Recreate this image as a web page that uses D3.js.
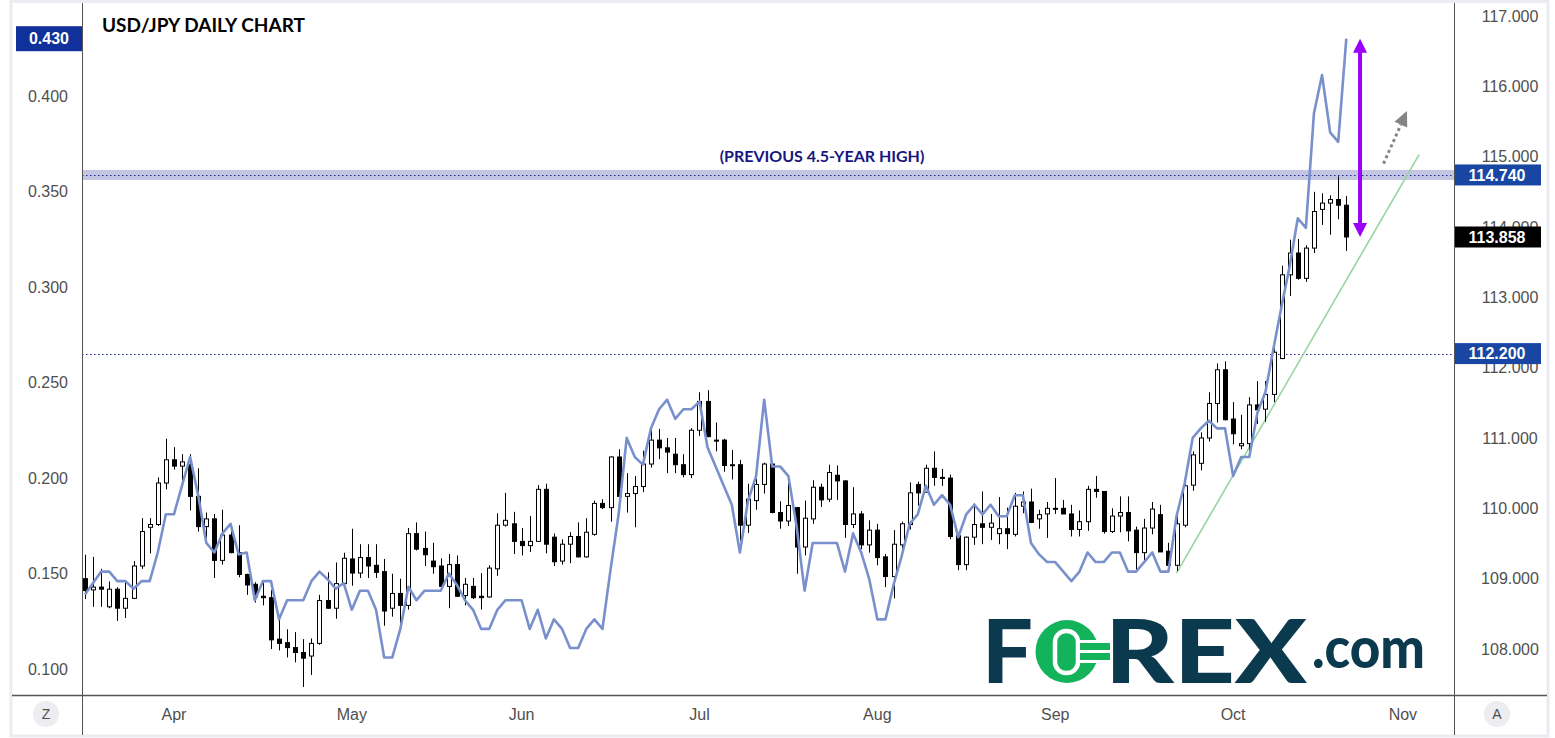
<!DOCTYPE html>
<meta charset="UTF-8">
<style>
    body { margin: 0; background: #fff; }
    svg { display: block; }
    .tick-label { font: 16px "Liberation Sans", Arial, sans-serif; fill: #4f4f4f; }
    .box-label { font: bold 16px "Liberation Sans", Arial, sans-serif; fill: #fff; }
</style>
<body>
<script src="https://d3js.org/d3.v7.min.js"></script>
<script>

// first daily bar on screen, the rest are the following weekdays
var startDate = "2021-03-17";

// USD/JPY daily candles
var opens = [
  109.00,108.84,108.88,108.60,108.85,108.58,108.72,109.18,109.73,109.77,
  110.36,110.69,110.60,110.62,110.17,109.74,109.85,109.26,109.62,109.37,
  109.06,108.92,108.75,108.73,108.14,108.09,108.02,107.95,107.90,108.08,
  108.69,108.58,108.93,109.28,109.08,109.30,109.19,109.10,108.58,108.79,
  108.62,109.64,109.43,109.25,109.18,108.89,109.20,108.76,108.89,108.75,
  108.74,109.14,109.76,109.78,109.53,109.47,109.53,110.27,109.59,109.25,
  109.49,109.60,109.31,109.63,110.07,110.01,110.73,110.17,110.21,110.31,
  110.63,110.97,110.86,110.77,110.62,110.48,111.11,111.52,110.97,110.97,
  110.62,110.62,109.76,110.11,110.34,110.63,109.94,109.82,110.01,109.45,
  109.85,110.30,110.13,110.47,110.39,109.77,109.92,109.48,109.69,109.31,
  109.03,109.48,109.77,110.34,110.23,110.57,110.44,110.43,109.61,109.20,
  109.59,109.78,109.73,109.64,109.71,109.63,110.03,110.09,109.85,109.92,
  110.00,110.00,109.92,109.70,109.81,110.27,110.24,109.67,109.89,109.94,
  109.69,109.37,109.72,109.91,109.39,109.19,109.76,110.33,110.64,111.00,
  111.49,111.97,111.27,110.89,110.92,111.47,111.41,111.62,112.13,113.32,
  113.63,113.27,113.70,114.25,114.34,114.39,114.31];
var highs = [
  109.34,109.31,109.14,108.96,108.88,108.96,109.25,109.86,109.86,110.44,
  110.99,110.87,110.77,110.77,110.57,109.94,109.92,109.98,109.78,109.76,
  109.07,108.95,108.98,108.84,108.43,108.28,108.24,108.14,108.15,108.77,
  109.09,109.23,109.37,109.71,109.49,109.49,109.49,109.28,109.07,109.00,
  109.72,109.80,109.67,109.51,109.29,109.35,109.33,109.01,109.01,109.08,
  109.19,109.93,110.22,109.95,109.72,109.89,110.33,110.35,109.64,109.56,
  109.66,109.80,109.86,110.11,110.13,110.74,110.84,110.50,110.46,110.82,
  111.13,111.13,111.00,111.00,110.77,111.14,111.65,111.68,111.22,110.99,
  110.83,110.69,110.35,110.42,110.65,110.65,110.10,110.36,110.02,110.11,
  110.40,110.35,110.62,110.61,110.40,110.30,109.96,109.83,109.78,109.35,
  109.69,109.81,110.37,110.38,110.62,110.81,110.56,110.48,109.64,109.60,
  110.07,110.24,109.92,110.16,110.01,110.22,110.24,110.28,109.98,110.09,
  110.43,110.12,110.05,109.97,110.32,110.46,110.24,110.00,110.17,110.17,
  109.74,109.85,110.09,110.05,109.51,109.90,110.36,110.81,111.08,111.65,
  112.06,112.09,111.51,111.33,111.58,111.81,111.81,112.28,113.45,113.82,
  113.83,113.74,114.50,114.48,114.45,114.72,114.44];
var lows = [
  108.71,108.60,108.60,108.58,108.40,108.44,108.71,109.14,109.36,109.75,
  110.27,110.55,110.37,109.97,109.67,109.58,109.01,109.20,109.36,109.02,
  108.77,108.66,108.62,108.00,107.98,107.88,107.81,107.46,107.63,108.06,
  108.57,108.43,108.92,108.90,109.01,109.01,109.01,108.33,108.46,108.34,
  108.56,109.40,109.18,109.07,108.83,108.58,108.74,108.62,108.71,108.56,
  108.73,109.04,109.74,109.35,109.33,109.38,109.52,109.36,109.18,109.20,
  109.22,109.30,109.30,109.61,109.99,109.81,110.16,109.94,109.73,110.23,
  110.58,110.70,110.50,110.50,110.44,110.43,111.03,111.01,110.81,110.52,
  110.41,109.54,109.65,109.98,110.21,109.93,109.71,109.75,109.07,109.33,
  109.78,110.02,110.09,110.12,109.58,109.72,109.42,109.37,109.19,108.88,
  108.72,109.40,109.70,110.04,110.22,110.32,110.32,109.56,109.12,109.12,
  109.48,109.49,109.55,109.49,109.42,109.60,109.93,109.79,109.71,109.58,
  109.92,109.92,109.60,109.60,109.68,110.15,109.64,109.65,109.66,109.53,
  109.10,109.23,109.63,109.38,109.11,109.11,109.73,110.25,110.54,110.95,
  111.22,111.25,110.91,110.84,110.82,111.20,111.23,111.51,112.12,113.02,
  113.25,113.22,113.63,114.03,113.89,114.11,113.66];
var closes = [
  108.83,108.88,108.85,108.85,108.58,108.72,109.18,109.67,109.77,110.36,
  110.69,110.60,110.66,110.17,109.74,109.85,109.26,109.62,109.37,109.06,
  108.91,108.74,108.73,108.13,108.08,108.02,107.95,107.87,108.08,108.69,
  108.58,108.93,109.29,109.08,109.30,109.18,109.09,108.54,108.79,108.62,
  109.64,109.42,109.34,109.17,108.89,109.20,108.75,108.92,108.73,108.73,
  109.15,109.76,109.83,109.53,109.47,109.53,110.27,109.49,109.24,109.49,
  109.60,109.31,109.66,110.07,110.01,110.73,110.17,110.21,110.31,110.63,
  110.97,110.86,110.80,110.62,110.48,111.11,111.52,111.02,110.96,110.61,
  110.61,109.76,110.13,110.34,110.63,109.94,109.82,110.04,109.45,109.86,
  110.30,110.12,110.51,110.39,109.77,109.92,109.48,109.69,109.30,109.03,
  109.49,109.78,110.22,110.22,110.57,110.44,110.43,109.60,109.20,109.59,
  109.77,109.73,109.79,109.71,109.64,110.03,110.09,109.80,109.91,110.00,
  109.99,109.92,109.70,109.81,110.27,110.24,109.67,109.89,109.94,109.68,
  109.37,109.72,109.99,109.38,109.19,109.78,110.32,110.76,111.00,111.49,
  111.97,111.26,111.06,110.92,111.47,111.40,111.62,112.22,113.32,113.63,
  113.27,113.70,114.22,114.34,114.39,114.31,113.858];

// yield spread (left scale), one value per bar
var spread = [
  .139,.145,.151,.151,.146,.146,.142,.146,.146,.161,
  .181,.181,.196,.211,.191,.166,.161,.171,.176,.160,
  .161,.136,.146,.146,.126,.136,.136,.136,.146,.151,
  .147,.142,.145,.131,.141,.141,.131,.106,.106,.121,
  .143,.136,.141,.141,.141,.150,.144,.136,.131,.121,
  .121,.131,.136,.136,.136,.121,.131,.116,.126,.121,
  .111,.111,.121,.126,.121,.152,.181,.221,.211,.207,
  .226,.236,.241,.231,.236,.236,.240,.216,.206,.196,
  .186,.161,.188,.201,.241,.206,.206,.201,.175,.141,
  .166,.166,.166,.166,.151,.171,.161,.147,.126,.126,
  .144,.159,.176,.181,.196,.186,.191,.186,.169,.181,
  .186,.181,.186,.180,.180,.191,.191,.166,.160,.156,
  .156,.151,.146,.151,.161,.156,.156,.161,.161,.151,
  .151,.156,.161,.151,.151,.180,.197,.221,.226,.230,
  .226,.226,.201,.211,.211,.234,.245,.268,.290,.311,
  .336,.331,.391,.411,.381,.376,.430];

var priceTicks = [108, 109, 110, 111, 112, 113, 114, 115, 116, 117];
var spreadTicks = [0.10, 0.15, 0.20, 0.25, 0.30, 0.35, 0.40];

var prevHigh = 114.74,     // previous 4.5-year high
    keyLevel = 112.20,
    lastPrice = 113.858,
    lastSpread = 0.430;

// green trend line, [bar index, price]
var trendLine = [[135, 109.08], [165, 115.03]];
// grey dotted "next leg" arrow, [bar index, price]
var nextArrow = [[160.6, 114.90], [163.5, 115.65]];
var purpleArrowBar = 157.7;

var width = 1555, height = 738;
var plot = {left: 82, right: 1454, top: 3, bottom: 695};

// weekday calendar for the bars (plus a few future slots for the axis)
var dates = [];
for (var d = new Date(startDate + "T00:00:00Z"); dates.length < 175; d.setUTCDate(d.getUTCDate() + 1)) {
  var wd = d.getUTCDay();
  if (wd > 0 && wd < 6) dates.push(new Date(d));
}

var x = d3.scaleLinear().domain([0, 156]).range([85, 1346.3]);
var yR = d3.scaleLinear().domain([108, 117]).range([649, 16]);
var yL = d3.scaleLinear().domain([0.10, 0.43]).range([669, 38.7]);

var svg = d3.select("body").append("svg")
    .attr("width", width)
    .attr("height", height);

svg.append("rect").attr("width", width).attr("height", height).attr("fill", "#fff");

svg.append("clipPath").attr("id", "plotClip")
  .append("rect")
    .attr("x", plot.left).attr("y", plot.top)
    .attr("width", plot.right - plot.left).attr("height", plot.bottom - plot.top);

var g = svg.append("g").attr("clip-path", "url(#plotClip)");

// ---- horizontal levels ----
g.append("rect")
    .attr("x", plot.left).attr("width", plot.right - plot.left)
    .attr("y", yR(prevHigh) - 5).attr("height", 10)
    .attr("fill", "#c3c5e3");

[prevHigh, keyLevel].forEach(function(v) {
  g.append("line")
      .attr("x1", plot.left).attr("x2", plot.right)
      .attr("y1", Math.round(yR(v)) + 0.5).attr("y2", Math.round(yR(v)) + 0.5)
      .attr("stroke", "#1b2a8c")
      .attr("stroke-width", 1)
      .attr("stroke-dasharray", "1.5,2.5");
});

g.append("text")
    .attr("x", 822).attr("y", yR(prevHigh) - 13)
    .attr("text-anchor", "middle")
    .style("font", "bold 16px Lato, 'Open Sans', sans-serif")
    .attr("fill", "#16167e")
    .text("(PREVIOUS 4.5-YEAR HIGH)");

// ---- trend line ----
g.append("line")
    .attr("x1", x(trendLine[0][0])).attr("y1", yR(trendLine[0][1]))
    .attr("x2", x(trendLine[1][0])).attr("y2", yR(trendLine[1][1]))
    .attr("stroke", "#97d49f")
    .attr("stroke-width", 1.6);

// ---- candles ----
var candles = closes.map(function(c, i) {
  return {i: i, o: opens[i], h: highs[i], l: lows[i], c: c};
});

var cg = g.append("g");
cg.selectAll("line.wick")
  .data(candles)
  .join("line")
    .attr("class", "wick")
    .attr("x1", function(d) { return Math.round(x(d.i)) + 0.5; })
    .attr("x2", function(d) { return Math.round(x(d.i)) + 0.5; })
    .attr("y1", function(d) { return yR(d.h); })
    .attr("y2", function(d) { return yR(d.l); })
    .attr("stroke", "#000")
    .attr("stroke-width", 1);

cg.selectAll("rect.body")
  .data(candles)
  .join("rect")
    .attr("class", "body")
    .attr("x", function(d) { return Math.round(x(d.i)) - 1.5; })
    .attr("width", 4)
    .attr("y", function(d) { return yR(Math.max(d.o, d.c)); })
    .attr("height", function(d) { return Math.max(1, Math.abs(yR(d.o) - yR(d.c))); })
    .attr("fill", function(d) { return d.c < d.o ? "#000" : "#fff"; })
    .attr("stroke", "#000")
    .attr("stroke-width", 1);

// ---- spread line ----
g.append("path")
    .datum(spread)
    .attr("fill", "none")
    .attr("stroke", "#7990cc")
    .attr("stroke-width", 2.6)
    .attr("stroke-linejoin", "round")
    .attr("d", d3.line()
        .x(function(v, i) { return x(i); })
        .y(function(v) { return yL(v); }));

// ---- purple double arrow ----
var pax = x(purpleArrowBar), paTop = yL(lastSpread), paBot = yR(lastPrice);
g.append("line")
    .attr("x1", pax).attr("x2", pax)
    .attr("y1", paTop + 12).attr("y2", paBot - 12)
    .attr("stroke", "#9b00fa").attr("stroke-width", 4);
g.append("path")
    .attr("d", "M" + pax + "," + paTop + "L" + (pax - 7) + "," + (paTop + 14) + "L" + (pax + 7) + "," + (paTop + 14) + "Z" +
               "M" + pax + "," + paBot + "L" + (pax - 7) + "," + (paBot - 14) + "L" + (pax + 7) + "," + (paBot - 14) + "Z")
    .attr("fill", "#9b00fa");

// ---- grey dotted arrow ----
var a0 = [x(nextArrow[0][0]), yR(nextArrow[0][1])],
    a1 = [x(nextArrow[1][0]), yR(nextArrow[1][1])];
var adx = a1[0] - a0[0], ady = a1[1] - a0[1], alen = Math.sqrt(adx * adx + ady * ady);
var ux = adx / alen, uy = ady / alen;
var hb = [a1[0] - ux * 15, a1[1] - uy * 15];
g.append("line")
    .attr("x1", a0[0]).attr("y1", a0[1])
    .attr("x2", hb[0]).attr("y2", hb[1])
    .attr("stroke", "#858585").attr("stroke-width", 3)
    .attr("stroke-dasharray", "3,3");
g.append("path")
    .attr("d", "M" + a1[0] + "," + a1[1] +
               "L" + (hb[0] - uy * 7) + "," + (hb[1] + ux * 7) +
               "L" + (hb[0] + uy * 7) + "," + (hb[1] - ux * 7) + "Z")
    .attr("fill", "#858585");

// ---- FOREX.com logo ----
var logo = svg.append("g");
var logoFont = "Lato, Roboto, 'Open Sans', sans-serif";
var navy = "#0b3a4e", green = "#13b35b";
logo.append("text")
    .attr("x", 982).attr("y", 683)
    .attr("textLength", 51).attr("lengthAdjust", "spacingAndGlyphs")
    .style("font-family", logoFont).style("font-weight", 900).style("font-size", "88px")
    .attr("fill", navy).text("F");
// the green "O" with a white zero and two prongs on its right
logo.append("circle").attr("cx", 1067).attr("cy", 651.5).attr("r", 31.5).attr("fill", green);
logo.append("rect").attr("x", 1055).attr("y", 631).attr("width", 23).attr("height", 42).attr("rx", 11)
    .attr("fill", green).attr("stroke", "#fff").attr("stroke-width", 4.5);
logo.append("rect").attr("x", 1078).attr("y", 640).attr("width", 24).attr("height", 3).attr("fill", "#fff");
logo.append("rect").attr("x", 1078).attr("y", 650).attr("width", 24).attr("height", 3).attr("fill", "#fff");
logo.append("rect").attr("x", 1078).attr("y", 660).attr("width", 24).attr("height", 3).attr("fill", "#fff");
logo.append("rect").attr("x", 1080).attr("y", 643).attr("width", 30).attr("height", 7).attr("fill", green);
logo.append("rect").attr("x", 1080).attr("y", 653).attr("width", 30).attr("height", 7).attr("fill", green);
logo.append("text")
    .attr("x", 1105).attr("y", 683)
    .attr("textLength", 202).attr("lengthAdjust", "spacingAndGlyphs")
    .style("font-family", logoFont).style("font-weight", 900).style("font-size", "88px")
    .attr("fill", navy).text("REX");
logo.append("text")
    .attr("x", 1312).attr("y", 668)
    .attr("textLength", 113).attr("lengthAdjust", "spacingAndGlyphs")
    .style("font-family", logoFont).style("font-weight", 900).style("font-size", "58px")
    .attr("fill", navy).text(".com");

// ---- title ----
svg.append("text")
    .attr("x", 102).attr("y", 32)
    .style("font", "bold 19px Lato, 'Open Sans', sans-serif")
    .attr("fill", "#000")
    .text("USD/JPY DAILY CHART");

// ---- frame and axis lines ----
svg.append("rect")
    .attr("x", 11).attr("y", 1.5).attr("width", 1537).attr("height", 734.5)
    .attr("fill", "none").attr("stroke", "#ebebf2").attr("stroke-width", 3);
svg.append("line").attr("x1", plot.left + 0.5).attr("x2", plot.left + 0.5)
    .attr("y1", 3).attr("y2", 735).attr("stroke", "#555").attr("stroke-width", 1);
svg.append("line").attr("x1", plot.right + 0.5).attr("x2", plot.right + 0.5)
    .attr("y1", 3).attr("y2", 735).attr("stroke", "#555").attr("stroke-width", 1);
svg.append("line").attr("x1", 12).attr("x2", 1547)
    .attr("y1", plot.bottom + 0.5).attr("y2", plot.bottom + 0.5)
    .attr("stroke", "#555").attr("stroke-width", 1.5);

// ---- tick labels ----
svg.selectAll("text.rtick")
  .data(priceTicks)
  .join("text")
    .attr("class", "rtick tick-label")
    .attr("x", 1510).attr("y", function(d) { return yR(d); })
    .attr("dy", "0.36em")
    .attr("text-anchor", "middle")
    .text(d3.format(".3f"));

svg.selectAll("text.ltick")
  .data(spreadTicks)
  .join("text")
    .attr("class", "ltick tick-label")
    .attr("x", 48).attr("y", function(d) { return yL(d); })
    .attr("dy", "0.36em")
    .attr("text-anchor", "middle")
    .text(d3.format(".3f"));

// month labels at the first bar of each month
var monthTicks = [];
dates.forEach(function(dt, i) {
  if (i > 0 && dt.getUTCMonth() !== dates[i - 1].getUTCMonth() && x(i) < plot.right - 20) {
    monthTicks.push({i: i, label: d3.utcFormat("%b")(dt)});
  }
});
svg.selectAll("text.mtick")
  .data(monthTicks)
  .join("text")
    .attr("class", "mtick tick-label")
    .attr("x", function(d) { return x(d.i); })
    .attr("y", 720)
    .attr("text-anchor", "middle")
    .text(function(d) { return d.label; });

// ---- price boxes ----
function rightBox(v, fill) {
  var cy = yR(v);
  svg.append("rect").attr("x", plot.right + 1).attr("y", cy - 10.5)
      .attr("width", 86).attr("height", 21).attr("fill", fill);
  svg.append("text").attr("class", "box-label")
      .attr("x", 1497).attr("y", cy).attr("dy", "0.36em")
      .attr("text-anchor", "middle")
      .text(d3.format(".3f")(v));
}
rightBox(prevHigh, "#1a46a3");
rightBox(lastPrice, "#000");
rightBox(keyLevel, "#1a46a3");

svg.append("rect").attr("x", 16).attr("y", yL(lastSpread) - 12.5)
    .attr("width", plot.left - 16).attr("height", 25).attr("fill", "#10309b");
svg.append("text").attr("class", "box-label")
    .attr("x", 49).attr("y", yL(lastSpread)).attr("dy", "0.36em")
    .attr("text-anchor", "middle")
    .text(d3.format(".3f")(lastSpread));

// ---- corner buttons ----
[["Z", 46], ["A", 1497]].forEach(function(b) {
  svg.append("circle").attr("cx", b[1]).attr("cy", 714).attr("r", 13).attr("fill", "#ececf1");
  svg.append("text").attr("class", "tick-label")
      .attr("x", b[1]).attr("y", 714).attr("dy", "0.36em")
      .attr("text-anchor", "middle").style("font-size", "14px")
      .text(b[0]);
});

</script>
</body>
